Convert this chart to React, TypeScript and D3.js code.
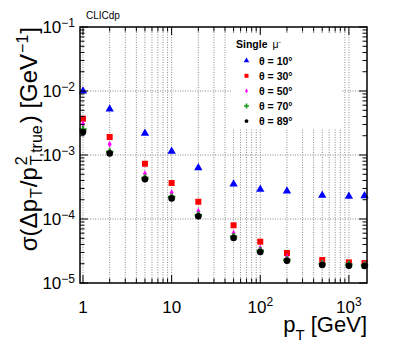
import * as d3 from "d3";

const ptValues = [1, 2, 5, 10, 20, 50, 100, 200, 500, 1000, 1500];

const theta10 = [1.0e-2, 5.2e-3, 2.18e-3, 1.14e-3, 6.3e-4, 3.52e-4, 2.91e-4, 2.74e-4, 2.34e-4, 2.26e-4, 2.31e-4];
const theta30 = [3.69e-3, 1.91e-3, 7.3e-4, 3.65e-4, 1.86e-4, 7.98e-5, 4.42e-5, 2.94e-5, 2.29e-5, 2.1e-5, 2.05e-5];
const theta50 = [3.05e-3, 1.47e-3, 5.1e-4, 2.58e-4, 1.32e-4, 5.98e-5, 3.48e-5, 2.52e-5, 2.1e-5, 2.0e-5, 1.98e-5];
const theta70 = [2.5e-3, 1.12e-3, 4.37e-4, 2.2e-4, 1.15e-4, 5.3e-5, 3.2e-5, 2.3e-5, 1.98e-5, 1.95e-5, 1.9e-5];
const theta89 = [2.29e-3, 1.06e-3, 4.17e-4, 2.1e-4, 1.1e-4, 5.05e-5, 3.05e-5, 2.23e-5, 1.91e-5, 1.86e-5, 1.84e-5];

const seriesLabels = ["θ = 10°", "θ = 30°", "θ = 50°", "θ = 70°", "θ = 89°"];
const seriesValues = [theta10, theta30, theta50, theta70, theta89];
const seriesColors = ["#0000ff", "#ff0000", "#ff00ff", "#1f9a1f", "#000000"];

const xMajor = [1, 10, 100, 1000];
const xLabelExp = ["", "", "2", "3"];
const xLabelBase = ["1", "10", "10", "10"];
const yMajorExp = [-1, -2, -3, -4, -5];

const W = 399;
const H = 345;
const left = 80, right = 367, top = 27, bottom = 283;

const x = d3.scaleLog().domain([0.925, 1600]).range([left, right]);
const y = d3.scaleLog().domain([1e-5, 1e-1]).range([bottom, top]);

const symbols = [d3.symbolTriangle, d3.symbolSquare, d3.symbolDiamond, d3.symbolCross, d3.symbolCircle];
const plotSizes = [30, 36, 14, 30, 34];
const legendSizes = [14, 16, 7, 14, 12];

export default function App() {
  const xMinor: number[] = [];
  for (let e = -1; e <= 3; e++) {
    for (let m = 1; m <= 9; m++) {
      const v = m * Math.pow(10, e);
      if (v >= 0.925 && v <= 1600) xMinor.push(v);
    }
  }
  const yMinor: number[] = [];
  for (let e = -5; e <= -2; e++) {
    for (let m = 1; m <= 9; m++) yMinor.push(m * Math.pow(10, e));
  }
  yMinor.push(0.1);

  const isMajor = (v: number) => Math.abs(Math.log10(v) - Math.round(Math.log10(v))) < 1e-9;
  const font = "'Liberation Sans', Arial, sans-serif";

  return (
    <svg width={W} height={H} style={{ position: "absolute", left: 0, top: 0, background: "#fff" }} fontFamily={font}>
      {/* grid */}
      <g stroke="#8a8a8a" strokeWidth={1} strokeDasharray="1,1.5">
        {xMinor.map((v, i) => (
          <line key={"gx" + i} x1={x(v)} x2={x(v)} y1={top} y2={bottom} />
        ))}
        {[1e-2, 1e-3, 1e-4].map((v, i) => (
          <line key={"gy" + i} x1={left} x2={right} y1={y(v)} y2={y(v)} />
        ))}
      </g>

      {/* legend box */}
      <rect x={232} y={33} width={110} height={95} fill="#fff" />
      <text x={236} y={48} fontSize={10.5} fontWeight="bold">
        Single <tspan fontWeight="normal" dx={2}>μ</tspan>
        <tspan fontWeight="normal" fontSize={7} dy={-4}>-</tspan>
      </text>
      {seriesLabels.map((lab, i) => {
        const cy = 60.7 + i * 15.1;
        return (
          <g key={"lg" + i}>
            <path
              transform={`translate(246.5,${cy})`}
              d={d3.symbol(symbols[i], legendSizes[i])() as string}
              fill={seriesColors[i]}
            />
            <text x={259} y={cy + 4} fontSize={10.5} fontWeight="bold">{lab}</text>
          </g>
        );
      })}

      {/* data */}
      {seriesValues.map((vals, si) => (
        <g key={"s" + si} fill={seriesColors[si]}>
          {vals.map((v, i) => (
            <path
              key={i}
              transform={`translate(${x(ptValues[i])},${y(v)})`}
              d={d3.symbol(symbols[si], plotSizes[si])() as string}
            />
          ))}
        </g>
      ))}

      {/* frame */}
      <rect x={left} y={top} width={right - left} height={bottom - top} fill="none" stroke="#000" strokeWidth={1.5} />

      {/* ticks */}
      <g stroke="#000" strokeWidth={1}>
        {xMinor.map((v, i) => {
          const len = isMajor(v) ? 8 : 4.5;
          return (
            <g key={"tx" + i}>
              <line x1={x(v)} x2={x(v)} y1={bottom} y2={bottom - len} />
              <line x1={x(v)} x2={x(v)} y1={top} y2={top + len} />
            </g>
          );
        })}
        {yMinor.map((v, i) => {
          const len = isMajor(v) ? 8 : 4.5;
          return (
            <g key={"ty" + i}>
              <line x1={left} x2={left + len} y1={y(v)} y2={y(v)} />
              <line x1={right} x2={right - len} y1={y(v)} y2={y(v)} />
            </g>
          );
        })}
      </g>

      {/* y tick labels */}
      {yMajorExp.map((e) => (
        <text key={"yl" + e} x={75} y={y(Math.pow(10, e)) + 6} textAnchor="end" fontSize={17}>
          10<tspan fontSize={12} dy={-6}>{"−" + Math.abs(e)}</tspan>
        </text>
      ))}

      {/* x tick labels */}
      {xMajor.map((v, i) => (
        <text key={"xl" + i} x={x(v)} y={313} textAnchor="middle" fontSize={17}>
          {xLabelBase[i]}
          {xLabelExp[i] && <tspan fontSize={12} dy={-7}>{xLabelExp[i]}</tspan>}
        </text>
      ))}

      {/* axis titles */}
      <text x={367} y={332} textAnchor="end" fontSize={22}>
        p<tspan fontSize={15} dy={8}>T</tspan>
        <tspan dy={-8}> [GeV]</tspan>
      </text>
      <text transform={`translate(37,${top}) rotate(-90)`} textAnchor="end" fontSize={24}>
        σ(Δp<tspan fontSize={16} dy={5} dx={1}>T</tspan>
        <tspan dy={-5} dx={1}>/p</tspan>
        <tspan fontSize={16} dy={-10} dx={2}>2</tspan>
        <tspan fontSize={16} dx={-9} dy={15}>T,true</tspan>
        <tspan dy={-5} dx={2}>) [GeV</tspan>
        <tspan fontSize={16} dy={-9} dx={1}>−1</tspan>
        <tspan dy={9} dx={1}>]</tspan>
      </text>

      <text x={86} y={19} fontSize={10}>CLICdp</text>
    </svg>
  );
}
